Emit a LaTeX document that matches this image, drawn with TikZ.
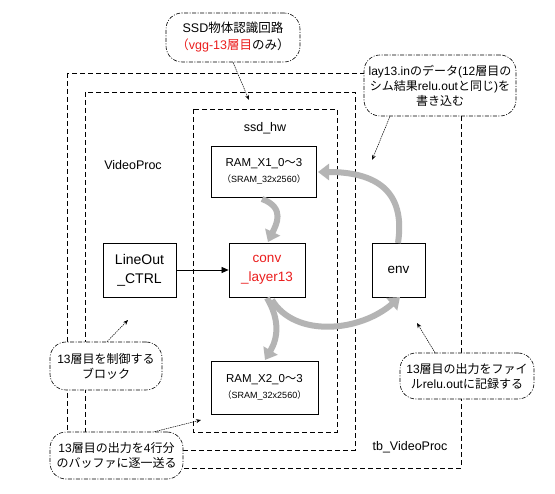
\documentclass[tikz,border=0pt]{standalone}
\usepackage{fontspec}
\setmainfont{Liberation Sans}
\newfontfamily\jp{Noto Sans CJK JP}
\usetikzlibrary{arrows.meta}
\definecolor{fl}{RGB}{180,180,180}
\definecolor{rd}{RGB}{235,30,30}
\begin{document}
\begin{tikzpicture}[x=1pt,y=-1pt,
  frame/.style={draw,dashed,dash pattern=on 5pt off 3pt,line width=0.8pt},
  blk/.style={draw,line width=0.8pt,fill=white,inner sep=0pt,align=center},
  call/.style={draw,dash pattern=on 4pt off 1.5pt on 1pt off 1.5pt,line width=0.6pt,fill=white,rounded corners=16pt,inner sep=0pt,align=center,font=\fontsize{12}{15}\selectfont},
  ptr/.style={-{Stealth[length=5pt,width=4pt]},line width=0.5pt,dash pattern=on 1.5pt off 0.8pt},
  fat/.style={draw=fl,line width=6pt,-{Triangle[length=11pt,width=16pt]}},
  lbl/.style={font=\fontsize{12.5}{14}\selectfont,inner sep=0pt}]
\useasboundingbox[fill=white] (0,0) rectangle (555,494);
% frames
\draw[frame] (67,73) rectangle (461,468);
\draw[frame] (85,92) rectangle (355,450);
\draw[frame] (193,109) rectangle (337,432);
\node[lbl] (lssd) at (265,128) {ssd\_hw};
\node[lbl] (lvp) at (133,165) {VideoProc};
\node[lbl] (ltb) at (410,447) {tb\_VideoProc};
% blocks
\node[blk,minimum width=105pt,minimum height=51pt,font=\fontsize{11.5}{16}\selectfont] (x1) at (264,171.5) {RAM\_X1\_0{\jp ～}3\\{\fontsize{9}{12}\selectfont{\jp （}SRAM\_32x2560{\jp ）}}};
\node[blk,minimum width=107pt,minimum height=53pt,font=\fontsize{11.5}{16}\selectfont] (x2) at (264.5,387.5) {RAM\_X2\_0{\jp ～}3\\{\fontsize{9}{12}\selectfont{\jp （}SRAM\_32x2560{\jp ）}}};
\node[blk,minimum width=73pt,minimum height=54pt,font=\fontsize{14}{19}\selectfont] (lo) at (139.5,270) {LineOut\\\_CTRL};
\node[blk,minimum width=76pt,minimum height=54pt,text=rd,font=\fontsize{13.5}{19}\selectfont] (cv) at (267,270) {conv\\\_layer13};
\node[blk,minimum width=53pt,minimum height=54pt,font=\fontsize{13.5}{15}\selectfont] (env) at (398.5,270) {env};
\draw[-{Triangle[length=7pt,width=6pt]},line width=0.7pt] (lo.east) -- (cv.west);
% fat gray arrows
\coordinate (a0) at (398,243);
\coordinate (a1) at (318,172);
\draw[fat] (a0) .. controls (406,190) and (375,172) .. (a1);
\coordinate (b0) at (262,199);
\coordinate (b1) at (268,242);
\draw[fat] (b0) .. controls (286,208) and (276,225) .. (b1);
\coordinate (c0) at (267,298);
\coordinate (c1) at (265,360);
\draw[fat] (c0) .. controls (280,320) and (278,338) .. (c1);
\coordinate (d0) at (272,300);
\coordinate (d1) at (400,297);
\draw[fat] (d0) .. controls (295,338) and (360,332) .. (d1);
% callouts
\node[call,minimum width=134pt,minimum height=49pt,font=\fontsize{12.5}{17}\selectfont] (c1n) at (233,37.5) {SSD{\jp 物体認識回路}\\{\color{rd}{\jp （}vgg-13{\jp 層目}}{\jp のみ）}};
\node[call,minimum width=152pt,minimum height=61pt] (c2n) at (440,85.5) {lay13.in{\jp のデータ}(12{\jp 層目の}\\{\jp シム結果}relu.out{\jp と同じ}){\jp を}\\{\jp 書き込む}};
\node[call,minimum width=112pt,minimum height=48pt] (c3n) at (106,366) {13{\jp 層目を制御する}\\{\jp ブロック}};
\node[call,minimum width=134pt,minimum height=46pt] (c4n) at (467,376) {13{\jp 層目の出力をファイ}\\{\jp ル}relu.out{\jp に記録する}};
\node[call,minimum width=133pt,minimum height=47pt] (c5n) at (116.5,455.5) {13{\jp 層目の出力を}4{\jp 行分}\\{\jp のバッファに逐一送る}};
% pointers
\coordinate (p1) at (249,100);
\coordinate (p2) at (372,160);
\coordinate (p3) at (128,320);
\coordinate (p4) at (417,323);
\coordinate (p5) at (201,420);
\draw[ptr] ([xshift=0pt]c1n.south) -- (p1);
\draw[ptr] ([xshift=-50pt]c2n.south) -- (p2);
\draw[ptr] ([xshift=1pt]c3n.north) -- (p3);
\draw[ptr] ([xshift=-32pt]c4n.north) -- (p4);
\draw[ptr] ([xshift=38pt]c5n.north) -- (p5);
\end{tikzpicture}
\end{document}
